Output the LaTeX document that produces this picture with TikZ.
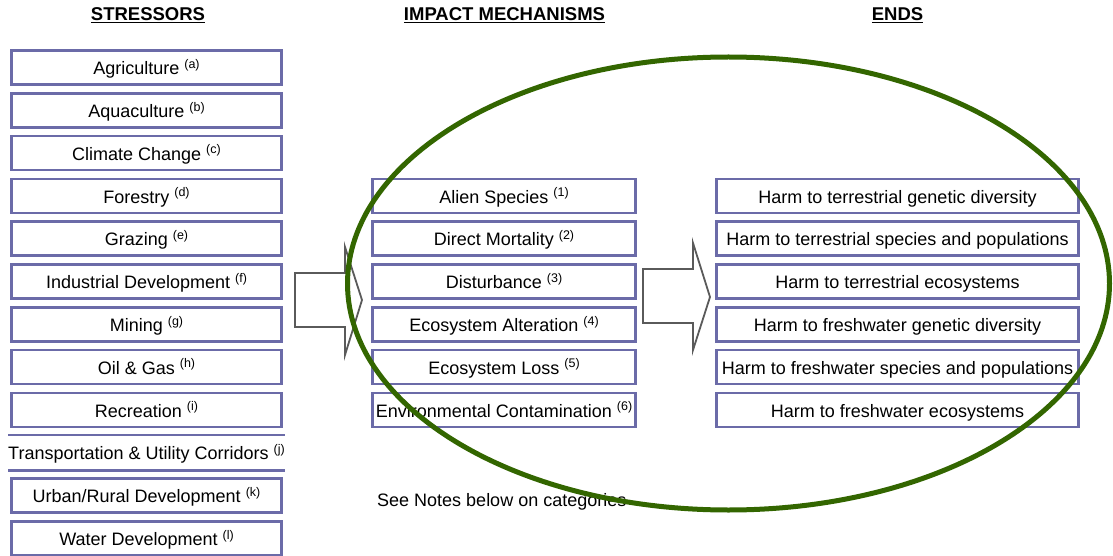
\documentclass[tikz,border=0pt]{standalone}
\usepackage{fontspec}
\setmainfont{Liberation Sans}
\newcommand{\sups}[1]{\raisebox{6.5pt}{\fontsize{12.5}{12.5}\selectfont #1}}
\definecolor{boxline}{HTML}{6B6BA8}
\definecolor{ellgreen}{HTML}{336600}
\definecolor{arrline}{HTML}{5A5A5A}
\tikzset{
  every node/.style={font=\fontsize{18}{21}\selectfont},
  txt/.style={text height=17.5pt, text depth=3pt},
  sbox/.style={txt, draw=boxline, line width=2.5pt, fill=white, minimum width=270pt, minimum height=34pt, inner sep=0pt, anchor=center},
  ibox/.style={sbox, minimum width=263pt},
  ebox/.style={sbox, minimum width=362pt},
  hdr/.style={font=\fontsize{18.5}{21}\selectfont\bfseries},
  blockarrow/.style={draw=arrline, line width=1.8pt, fill=white, line join=miter},
  bigell/.style={draw=ellgreen, line width=5pt}
}
\begin{document}
\begin{tikzpicture}[x=1pt,y=-1pt]
\useasboundingbox (0,0) rectangle (1113,556);
% headers
\node[hdr] (h1) at (148,15) {\underline{STRESSORS}};
\node[hdr] (h2) at (504.5,15) {\underline{IMPACT MECHANISMS}};
\node[hdr] (h3) at (897.5,15) {\underline{ENDS}};
% stressors
\node[sbox] (s1) at (146.5,67.5) {Agriculture \sups{(a)}};
\node[sbox] (s2) at (146.5,110.3) {Aquaculture \sups{(b)}};
\node[sbox] (s3) at (146.5,153.1) {Climate Change \sups{(c)}};
\node[sbox] (s4) at (146.5,195.9) {Forestry \sups{(d)}};
\node[sbox] (s5) at (146.5,238.7) {Grazing \sups{(e)}};
\node[sbox] (s6) at (146.5,281.5) {Industrial Development \sups{(f)}};
\node[sbox] (s7) at (146.5,324.3) {Mining \sups{(g)}};
\node[sbox] (s8) at (146.5,367.1) {Oil \& Gas \sups{(h)}};
\node[sbox] (s9) at (146.5,409.9) {Recreation \sups{(i)}};
\node[txt, minimum width=271pt, minimum height=35pt, inner sep=0pt] (s10) at (146.5,452.7) {Transportation \& Utility Corridors \sups{(j)}};
\draw[boxline, line width=2.5pt] (s10.north west) -- (s10.north east);
\draw[boxline, line width=2.5pt] (s10.south west) -- (s10.south east);
\node[sbox] (s11) at (146.5,495.5) {Urban/Rural Development \sups{(k)}};
\node[sbox] (s12) at (146.5,538.3) {Water Development \sups{(l)}};
% impact mechanisms
\node[ibox] (m1) at (504,195.9) {Alien Species \sups{(1)}};
\node[ibox] (m2) at (504,238.7) {Direct Mortality \sups{(2)}};
\node[ibox] (m3) at (504,281.5) {Disturbance \sups{(3)}};
\node[ibox] (m4) at (504,324.3) {Ecosystem Alteration \sups{(4)}};
\node[ibox] (m5) at (504,367.1) {Ecosystem Loss \sups{(5)}};
\node[ibox] (m6) at (504,409.9) {Environmental Contamination \sups{(6)}};
% ends
\node[ebox] (e1) at (897.5,195.9) {Harm to terrestrial genetic diversity};
\node[ebox] (e2) at (897.5,238.7) {Harm to terrestrial species and populations};
\node[ebox] (e3) at (897.5,281.5) {Harm to terrestrial ecosystems};
\node[ebox] (e4) at (897.5,324.3) {Harm to freshwater genetic diversity};
\node[ebox] (e5) at (897.5,367.1) {Harm to freshwater species and populations};
\node[ebox] (e6) at (897.5,409.9) {Harm to freshwater ecosystems};
% note
\node[anchor=west, inner sep=0pt] (note) at (377,502) {See Notes below on categories};
% block arrows
\draw[blockarrow] (295,273) -- (345,273) -- (345,247) -- (362,300) -- (345,355) -- (345,327) -- (295,327) -- cycle;
\draw[blockarrow] (643,269) -- (693,269) -- (693,243) -- (710,297) -- (693,350) -- (693,323) -- (643,323) -- cycle;
% ellipse
\draw[bigell] (728.5,283.5) ellipse [x radius=381, y radius=226.5];
\end{tikzpicture}
\end{document}
